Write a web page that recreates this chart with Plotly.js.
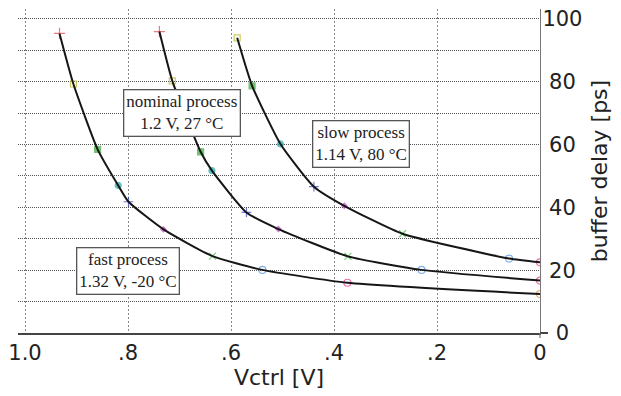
<!DOCTYPE html>
<html>
<head>
<meta charset="utf-8">
<script src="https://cdn.plot.ly/plotly-3.0.1.min.js"></script>
<style>html,body{margin:0;padding:0;background:#fff;}#chart{width:621px;height:396px;}</style>
</head>
<body>
<div id="chart"></div>
<script>
// Data (Vctrl [V] vs buffer delay [ps])
const fastX = [0.933, 0.906, 0.859, 0.819, 0.799, 0.731, 0.636, 0.539, 0.374, 0];
const fastY = [95.4, 79.3, 58.5, 47.0, 41.8, 33.0, 24.5, 20.1, 16.0, 12.4];
const nomX  = [0.739, 0.714, 0.659, 0.637, 0.570, 0.508, 0.373, 0.230, 0];
const nomY  = [96.0, 80.3, 57.7, 51.7, 38.4, 33.1, 24.4, 20.1, 16.7];
const slowX = [0.588, 0.559, 0.504, 0.439, 0.380, 0.267, 0.060, 0];
const slowY = [94.0, 78.7, 60.2, 46.6, 40.5, 31.6, 23.7, 22.5];

const xTickVals = [1.0, 0.8, 0.6, 0.4, 0.2, 0];
const xTickText = ['1.0', '.8', '.6', '.4', '.2', '0'];
const yTickVals = [0, 20, 40, 60, 80, 100];
const yTickText = ['0', '20', '40', '60', '80', '100'];

const labels = [
  {x: 0.696, y: 70.2, text: 'nominal process<br>1.2 V, 27 °C'},
  {x: 0.348, y: 60.1, text: 'slow process<br>1.14 V, 80 °C'},
  {x: 0.800, y: 19.9, text: 'fast process<br>1.32 V, -20 °C'}
];

// Styles (kept separate from data)
const markerSymbols = ['cross-thin-open','square-open','square','circle','cross-thin-open','diamond','x-thin-open','circle-open','circle-open','circle-open'];
const markerColors  = ['#e8404a','#b8b820','#3aa83a','#20a8a8','#3040c0','#c040c0','#40c040','#4a90e0','#e83090','#e09030'];
const markerSizes   = [8, 6, 6, 6, 7, 4, 7, 7, 7, 7];

function centerPad(t) {
  const n = 3 - t.length;
  return '\u00a0'.repeat(n) + t;
}

function series(xs, ys, startIdx) {
  const sy = [], cl = [], sz = [];
  for (let i = 0; i < xs.length; i++) {
    sy.push(markerSymbols[startIdx + i]);
    cl.push(markerColors[startIdx + i]);
    sz.push(markerSizes[startIdx + i]);
  }
  return [
    {x: xs, y: ys, type: 'scatter', mode: 'markers', showlegend: false, hoverinfo: 'skip',
     marker: {symbol: sy, color: cl, size: sz, line: {color: cl, width: 1.2}}},
    {x: xs, y: ys, type: 'scatter', mode: 'lines', showlegend: false, hoverinfo: 'skip',
     line: {color: '#161616', width: 2, shape: 'spline', smoothing: 0.5}}
  ];
}

const traces = [].concat(series(fastX, fastY, 0), series(nomX, nomY, 0), series(slowX, slowY, 1));

const layout = {
  width: 621, height: 396,
  margin: {l: 18, r: 81, t: 9, b: 63, pad: 0},
  paper_bgcolor: '#fff', plot_bgcolor: '#fff',
  font: {family: 'DejaVu Sans', size: 21, color: '#222'},
  showlegend: false,
  xaxis: {
    range: [1.01359, 0], autorange: false,
    tickvals: xTickVals, ticktext: xTickText,
    ticks: '', showline: true, linecolor: '#444', linewidth: 2, mirror: false,
    showgrid: true, gridcolor: '#888', gridwidth: 1, griddash: '1.5px,2.5px',
    zeroline: false,
    tickfont: {family: 'DejaVu Sans', size: 21, color: '#222'},
    title: {text: 'Vctrl [V]', font: {family: 'DejaVu Sans', size: 22, color: '#222'}, standoff: 3},
    automargin: false
  },
  yaxis: {
    range: [0, 103.18], autorange: false, side: 'right',
    tickvals: yTickVals, ticktext: yTickText.map(centerPad),
    ticks: '', showline: true, linecolor: '#777', linewidth: 1.2,
    ticklabelstandoff: -3,
    showgrid: true, gridcolor: '#555', gridwidth: 1, griddash: '1px,1px',
    minor: {dtick: 10, tick0: 0, showgrid: true, gridcolor: '#555', gridwidth: 1, griddash: '1px,1px'},
    zeroline: false,
    tickfont: {family: 'DejaVu Sans', size: 21, color: '#222'},
    title: {text: 'buffer delay [ps]', font: {family: 'DejaVu Sans', size: 22, color: '#222'}, standoff: 10},
    automargin: false
  },
  shapes: [
    {type: 'line', xref: 'paper', yref: 'paper', x0: 1, x1: 1 + 8/522, y0: 0, y1: 0, line: {color: '#444', width: 2}},
    {type: 'line', xref: 'paper', yref: 'paper', x0: 1, x1: 1, y0: 0, y1: -5/324, line: {color: '#777', width: 1.2}}
  ],
  annotations: labels.map(l => ({
    x: l.x, y: l.y, xref: 'x', yref: 'y', text: l.text, showarrow: false,
    font: {family: 'Liberation Serif', size: 17, color: '#222'},
    bgcolor: '#fff', bordercolor: '#555', borderwidth: 1.3, borderpad: 2,
    xanchor: 'center', yanchor: 'middle', align: 'center'
  }))
};

Plotly.newPlot('chart', traces, layout, {displayModeBar: false, staticPlot: true});
</script>
</body>
</html>
